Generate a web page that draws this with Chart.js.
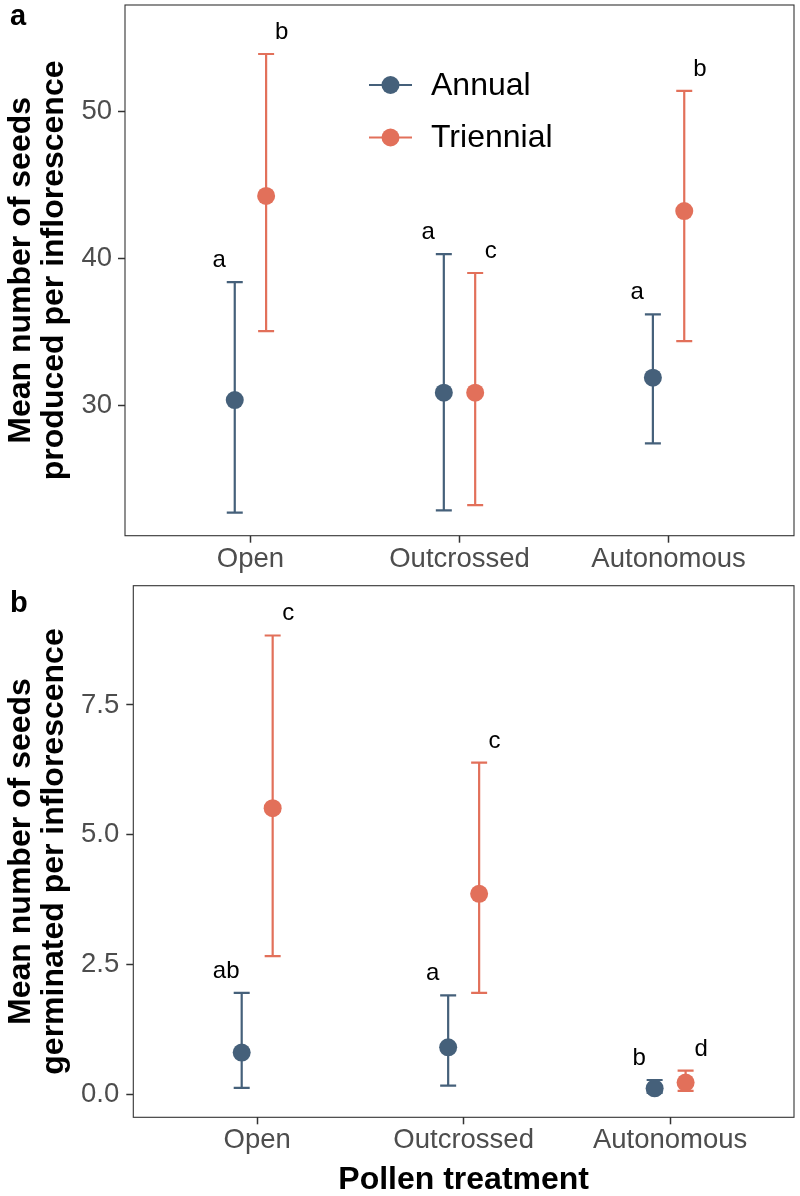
<!DOCTYPE html>
<html><head><meta charset="utf-8">
<script src="https://cdn.jsdelivr.net/npm/chart.js@4/dist/chart.umd.min.js"></script>
<style>
html,body{margin:0;padding:0;background:#fff;overflow:hidden;}
canvas{position:absolute;left:0;display:block;}
#ca{top:0;}
#cb{top:580px;}
</style></head><body>
<canvas id="ca" width="800" height="580"></canvas>
<canvas id="cb" width="800" height="616"></canvas>
<script>
// ---------- data ----------
const categories = ['Open', 'Outcrossed', 'Autonomous'];
const seriesNames = ['Annual', 'Triennial'];

// panel a: seeds produced per inflorescence
const seedsAnnualMean    = [30.34, 30.84, 31.86];
const seedsAnnualLow     = [22.66, 22.82, 27.39];
const seedsAnnualHigh    = [38.38, 40.29, 36.18];
const seedsTriennialMean = [44.25, 30.84, 43.22];
const seedsTriennialLow  = [35.04, 23.18, 34.36];
const seedsTriennialHigh = [53.93, 39.00, 51.41];
const seedsAnnualLetters    = ['a', 'a', 'a'];
const seedsTriennialLetters = ['b', 'c', 'b'];
const seedsTicks      = [30, 40, 50];
const seedsTickLabels = ['30', '40', '50'];

// panel b: seeds germinated per inflorescence
const germAnnualMean    = [0.80, 0.90, 0.11];
const germAnnualLow     = [0.12, 0.16, 0.02];
const germAnnualHigh    = [1.95, 1.90, 0.27];
const germTriennialMean = [5.51, 3.86, 0.22];
const germTriennialLow  = [2.66, 1.95, 0.06];
const germTriennialHigh = [8.84, 6.39, 0.45];
const germAnnualLetters    = ['ab', 'a', 'b'];
const germTriennialLetters = ['c', 'c', 'd'];
const germTicks      = [0, 2.5, 5, 7.5];
const germTickLabels = ['0.0', '2.5', '5.0', '7.5'];

// ---------- style ----------
const FONT = '"Liberation Sans", Arial, Helvetica, sans-serif';
Chart.defaults.font.family = FONT;
const colAnnual = '#45607a';
const colTriennial = '#e2705a';
const DODGE = 0.075;
const LETTER_SHIFT = 0.15;

const errorBarPlugin = {
  id: 'errbars',
  beforeDatasetsDraw(chart) {
    const ctx = chart.ctx, xs = chart.scales.x, ys = chart.scales.y;
    chart.data.datasets.forEach(ds => {
      ctx.save();
      ctx.strokeStyle = ds.borderColor;
      ctx.lineWidth = 2.2;
      ctx.lineCap = 'butt';
      ds.data.forEach((p, i) => {
        const x = xs.getPixelForValue(p.x);
        const yl = ys.getPixelForValue(ds.low[i]);
        const yh = ys.getPixelForValue(ds.high[i]);
        const c = 8;
        ctx.beginPath();
        ctx.moveTo(x, yl); ctx.lineTo(x, yh);
        ctx.moveTo(x - c, yl); ctx.lineTo(x + c, yl);
        ctx.moveTo(x - c, yh); ctx.lineTo(x + c, yh);
        ctx.stroke();
      });
      ctx.restore();
    });
  },
  afterDatasetsDraw(chart) {
    const ctx = chart.ctx, xs = chart.scales.x, ys = chart.scales.y;
    ctx.save();
    ctx.fillStyle = '#000';
    ctx.font = '24px ' + FONT;
    ctx.textAlign = 'center';
    ctx.textBaseline = 'alphabetic';
    chart.data.datasets.forEach(ds => {
      ds.letters.forEach((t, i) => {
        const x = xs.getPixelForValue(i + 1 + ds.side * LETTER_SHIFT);
        const y = ys.getPixelForValue(ds.high[i]) - 15;
        ctx.fillText(t, x, y);
      });
    });
    ctx.restore();
  },
  afterDraw(chart, args, opts) {
    const ctx = chart.ctx, a = chart.chartArea;
    ctx.save();
    ctx.strokeStyle = '#333';
    ctx.lineWidth = 1.1;
    ctx.strokeRect(a.left, a.top, a.right - a.left, a.bottom - a.top);
    // panel tag
    ctx.fillStyle = '#000';
    ctx.font = 'bold 29px ' + FONT;
    ctx.textAlign = 'left';
    ctx.textBaseline = 'alphabetic';
    ctx.fillText(opts.tag, opts.tagX, opts.tagY);
    // legend
    if (opts.legend) {
      const L = opts.legend;
      chart.data.datasets.forEach((ds, k) => {
        const y = L.y + k * L.dy;
        ctx.strokeStyle = ds.borderColor;
        ctx.lineWidth = 2.2;
        ctx.beginPath(); ctx.moveTo(L.x0, y); ctx.lineTo(L.x1, y); ctx.stroke();
        ctx.fillStyle = ds.backgroundColor;
        ctx.beginPath(); ctx.arc((L.x0 + L.x1) / 2, y, 9, 0, Math.PI * 2); ctx.fill();
        ctx.fillStyle = '#000';
        ctx.font = '32px ' + FONT;
        ctx.textBaseline = 'middle';
        ctx.fillText(ds.label, L.tx, y + 1);
      });
    }
    ctx.restore();
  }
};

function buildChart(id, p) {
  const mk = (mean, low, high, letters, k, col) => ({
    label: seriesNames[k],
    data: mean.map((v, i) => ({ x: i + 1 + (k === 0 ? -DODGE : DODGE), y: v })),
    low, high, letters, side: k === 0 ? -1 : 1,
    backgroundColor: col, borderColor: col,
    pointRadius: 9, pointHoverRadius: 9, pointBorderWidth: 0, showLine: false
  });
  return new Chart(document.getElementById(id), {
    type: 'scatter',
    data: {
      datasets: [
        mk(p.aMean, p.aLow, p.aHigh, p.aLet, 0, colAnnual),
        mk(p.tMean, p.tLow, p.tHigh, p.tLet, 1, colTriennial)
      ]
    },
    options: {
      responsive: false,
      animation: false,
      events: [],
      layout: { autoPadding: false, padding: { top: p.padTop, right: 6, left: 0, bottom: 0 } },
      plugins: {
        legend: { display: false },
        tooltip: { enabled: false },
        errbars: { tag: p.tag, tagX: p.tagX, tagY: p.tagY, legend: p.legend }
      },
      scales: {
        x: {
          type: 'linear', min: 0.4, max: 3.6,
          afterBuildTicks: s => { s.ticks = categories.map((c, i) => ({ value: i + 1 })); },
          afterFit: s => { s.height = p.xH; s.paddingLeft = 0; s.paddingRight = 0; },
          ticks: {
            callback: v => categories[Math.round(v) - 1],
            color: '#4d4d4d', font: { size: 27.5 }, padding: 0,
            maxRotation: 0, minRotation: 0, autoSkip: false
          },
          grid: { display: true, drawOnChartArea: false, drawTicks: true, tickLength: 7, tickColor: '#333', tickWidth: 1.5 },
          border: { display: false },
          title: p.xTitle ? {
            display: true, text: p.xTitle, color: '#000',
            font: { size: 32, weight: 'bold', lineHeight: '32px' }, padding: { top: 0, bottom: 0 }
          } : { display: false }
        },
        y: {
          min: p.yMin, max: p.yMax,
          afterBuildTicks: s => { s.ticks = p.ticks.map(v => ({ value: v })); },
          afterFit: s => { s.width = p.yW; s.paddingTop = 0; s.paddingBottom = 0; },
          ticks: {
            callback: (v, i) => p.tickLabels[i],
            color: '#4d4d4d', font: { size: 27.5 }, padding: p.yPad, autoSkip: false
          },
          grid: { display: true, drawOnChartArea: false, drawTicks: true, tickLength: 7, tickColor: '#333', tickWidth: 1.5 },
          border: { display: false },
          title: {
            display: true, text: p.yTitle, color: '#000',
            font: { size: 32, weight: 'bold', lineHeight: '33px' }, padding: { top: 5, bottom: 0 }
          }
        }
      }
    },
    plugins: [errorBarPlugin]
  });
}

buildChart('ca', {
  aMean: seedsAnnualMean, aLow: seedsAnnualLow, aHigh: seedsAnnualHigh, aLet: seedsAnnualLetters,
  tMean: seedsTriennialMean, tLow: seedsTriennialLow, tHigh: seedsTriennialHigh, tLet: seedsTriennialLetters,
  ticks: seedsTicks, tickLabels: seedsTickLabels,
  yMin: 21.09, yMax: 57.27, padTop: 5, xH: 44.3, yW: 125, yPad: 6,
  yTitle: ['Mean number of seeds', 'produced per inflorescence'],
  tag: 'a', tagX: 10, tagY: 25,
  legend: { x0: 369, x1: 412, y: 85, dy: 52.5, tx: 431 }
});

buildChart('cb', {
  aMean: germAnnualMean, aLow: germAnnualLow, aHigh: germAnnualHigh, aLet: germAnnualLetters,
  tMean: germTriennialMean, tLow: germTriennialLow, tHigh: germTriennialHigh, tLet: germTriennialLetters,
  ticks: germTicks, tickLabels: germTickLabels,
  yMin: -0.449, yMax: 9.80, padTop: 5.7, xH: 78.7, yW: 133.3, yPad: 7,
  yTitle: ['Mean number of seeds', 'germinated per inflorescence'],
  xTitle: 'Pollen treatment',
  tag: 'b', tagX: 10, tagY: 32
});
</script>
</body></html>
